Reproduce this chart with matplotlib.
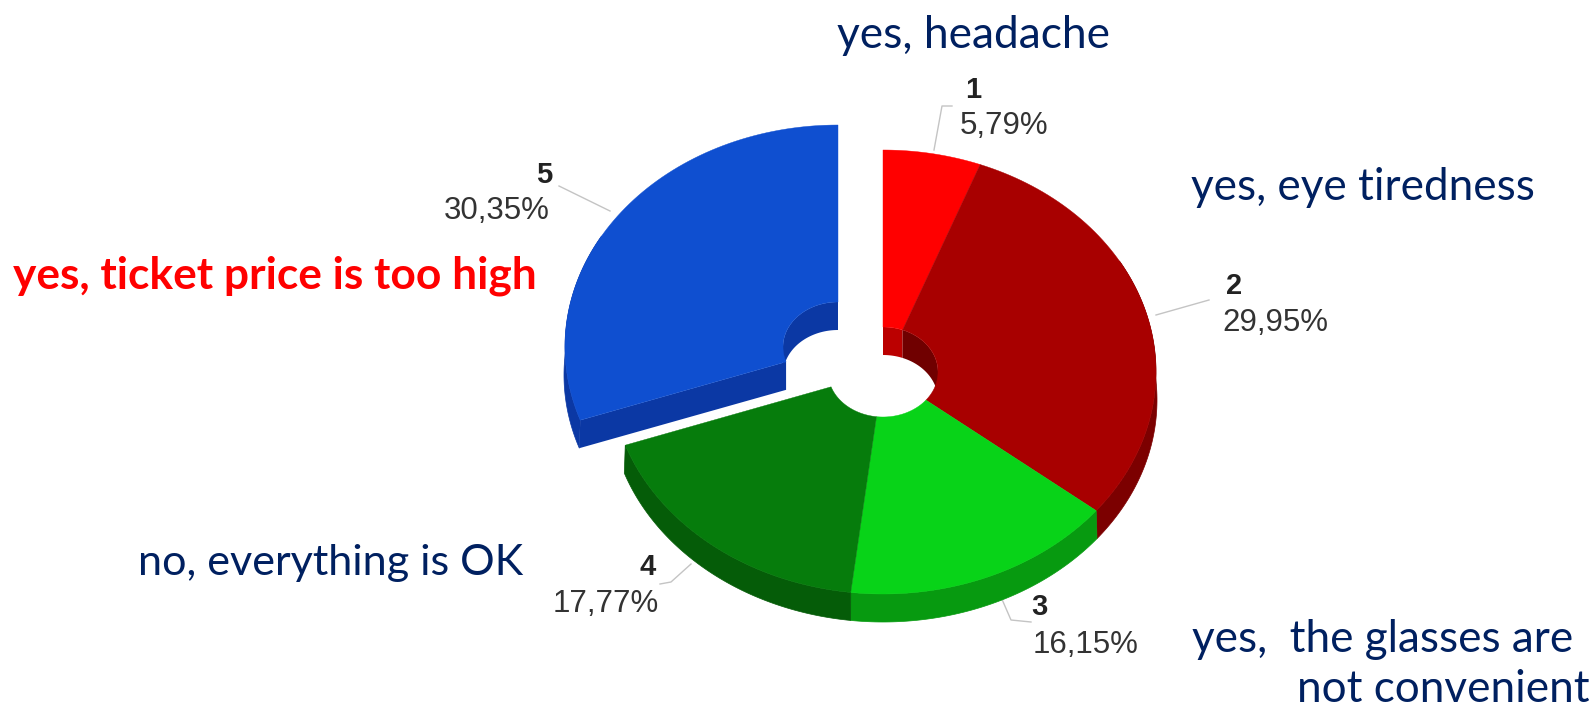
import numpy as np
import matplotlib
matplotlib.use('Agg')
import matplotlib.pyplot as plt
from matplotlib.patches import Polygon

# chart data
slice_ids = ['1', '2', '3', '4', '5']
shares = [5.79, 29.95, 16.15, 17.77, 30.35]
share_labels = ['5,79%', '29,95%', '16,15%', '17,77%', '30,35%']

top_colors = ['#ff0000', '#a80000', '#08d318', '#067c0c', '#0f4fd0']
wall_colors = ['#ff0000', '#7c0000', '#079a10', '#055c08', '#0b38a4']
inner_colors = ['#bb0000', '#700000', '#079a10', '#055c08', '#0b38a4']

# pie geometry in pixels
CX, CY = 883, 372
RX, RY = 273, 222
IN_RX, IN_RY = 55, 45
DEPTH = 28
LOW_RX = 274
EXPLODE = (-45, -25)


def outer_arc(t, off=(0, 0), low=False):
    rx = LOW_RX if low else RX
    dy = DEPTH if low else 0
    return np.column_stack([CX + off[0] + rx * np.sin(t), CY + off[1] + dy - RY * np.cos(t)])


def inner_arc(t, off=(0, 0), low=False):
    dy = DEPTH if low else 0
    return np.column_stack([CX + off[0] + IN_RX * np.sin(t), CY + off[1] + dy - IN_RY * np.cos(t)])


def angle_range(a, b):
    return np.radians(np.linspace(a, b, 80))


def draw_slice(ax, start, end, i, off=(0, 0)):
    # cut face, only the exploded slice shows one
    if off != (0, 0):
        t = angle_range(start, start)[:1]
        pts = np.vstack([outer_arc(t, off), inner_arc(t, off), inner_arc(t, off, True), outer_arc(t, off, True)])
        ax.add_patch(Polygon(pts, fc=wall_colors[i], ec='none', zorder=2 + i))

    # outer wall, front part of the ring
    a, b = max(start, 60), min(end, 300)
    if a < b:
        t = angle_range(a, b)
        pts = np.vstack([outer_arc(t, off), outer_arc(t, off, True)[::-1]])
        ax.add_patch(Polygon(pts, fc=wall_colors[i], ec=wall_colors[i], lw=0.5, zorder=2 + i))

    # inner wall, back part of the hole
    for a, b in [(max(start, 0), min(end, 90)), (max(start, 270), min(end, 360))]:
        if a < b:
            t = angle_range(a, b)
            pts = np.vstack([inner_arc(t, off), inner_arc(t, off, True)[::-1]])
            ax.add_patch(Polygon(pts, fc=inner_colors[i], ec='none', zorder=2 + i))

    t = angle_range(start, end)
    pts = np.vstack([outer_arc(t, off), inner_arc(t, off)[::-1]])
    ax.add_patch(Polygon(pts, fc=top_colors[i], ec=top_colors[i], lw=0.3, zorder=10 + i))


fig = plt.figure(figsize=(15.93, 7.09), dpi=100)
ax = fig.add_axes([0, 0, 1, 1])
ax.set_xlim(0, 1593)
ax.set_ylim(709, 0)
ax.axis('off')

edges = np.cumsum([0] + shares) / sum(shares) * 360
for i in range(len(shares)):
    off = EXPLODE if i == 4 else (0, 0)
    draw_slice(ax, edges[i], edges[i + 1], i, off)

# leader lines
leaders = [
    ([934, 942, 952], [150, 106, 106]),
    ([1156, 1209], [315, 300]),
    ([1001, 1011, 1031], [597, 620, 622]),
    ([691, 671, 660], [564, 582, 584]),
    ([610, 559], [211, 186]),
]
for xs, ys in leaders:
    ax.plot(xs, ys, color='#c4c4c4', lw=1, zorder=1)

# pie labels
id_pos = [(973, 90), (1234, 286), (1039, 607), (648, 567), (544, 175)]
pct_pos = [(960, 126), (1222, 323), (1033, 645), (553, 604), (444, 211)]
for i in range(len(shares)):
    ax.text(id_pos[i][0], id_pos[i][1], slice_ids[i], ha='center', va='center', fontsize=21,
            fontweight='bold', family='Liberation Sans', color='#222222')
    ax.text(pct_pos[i][0], pct_pos[i][1], share_labels[i], ha='left', va='center', fontsize=22.5,
            family='Liberation Sans', color='#333333')

# answers around the pie
NAVY = '#002060'
ax.text(837, 35, 'yes, headache', fontsize=31.9, family='Lato', color=NAVY, va='center')
ax.text(1191, 187, 'yes, eye tiredness', fontsize=31.7, family='Lato', color=NAVY, va='center')
ax.text(13, 276, 'yes, ticket price is too high', fontsize=31.9, family='Lato', fontweight='bold',
        color='#ff0000', va='center')
ax.text(138, 563, 'no, everything is OK', fontsize=31.1, family='Lato', color=NAVY, va='center')
ax.text(1192, 639, 'yes,  the glasses are', fontsize=31.7, family='Lato', color=NAVY, va='center')
ax.text(1297, 690, 'not convenient', fontsize=31.7, family='Lato', color=NAVY, va='center')

fig.savefig('out.png', dpi=100)
